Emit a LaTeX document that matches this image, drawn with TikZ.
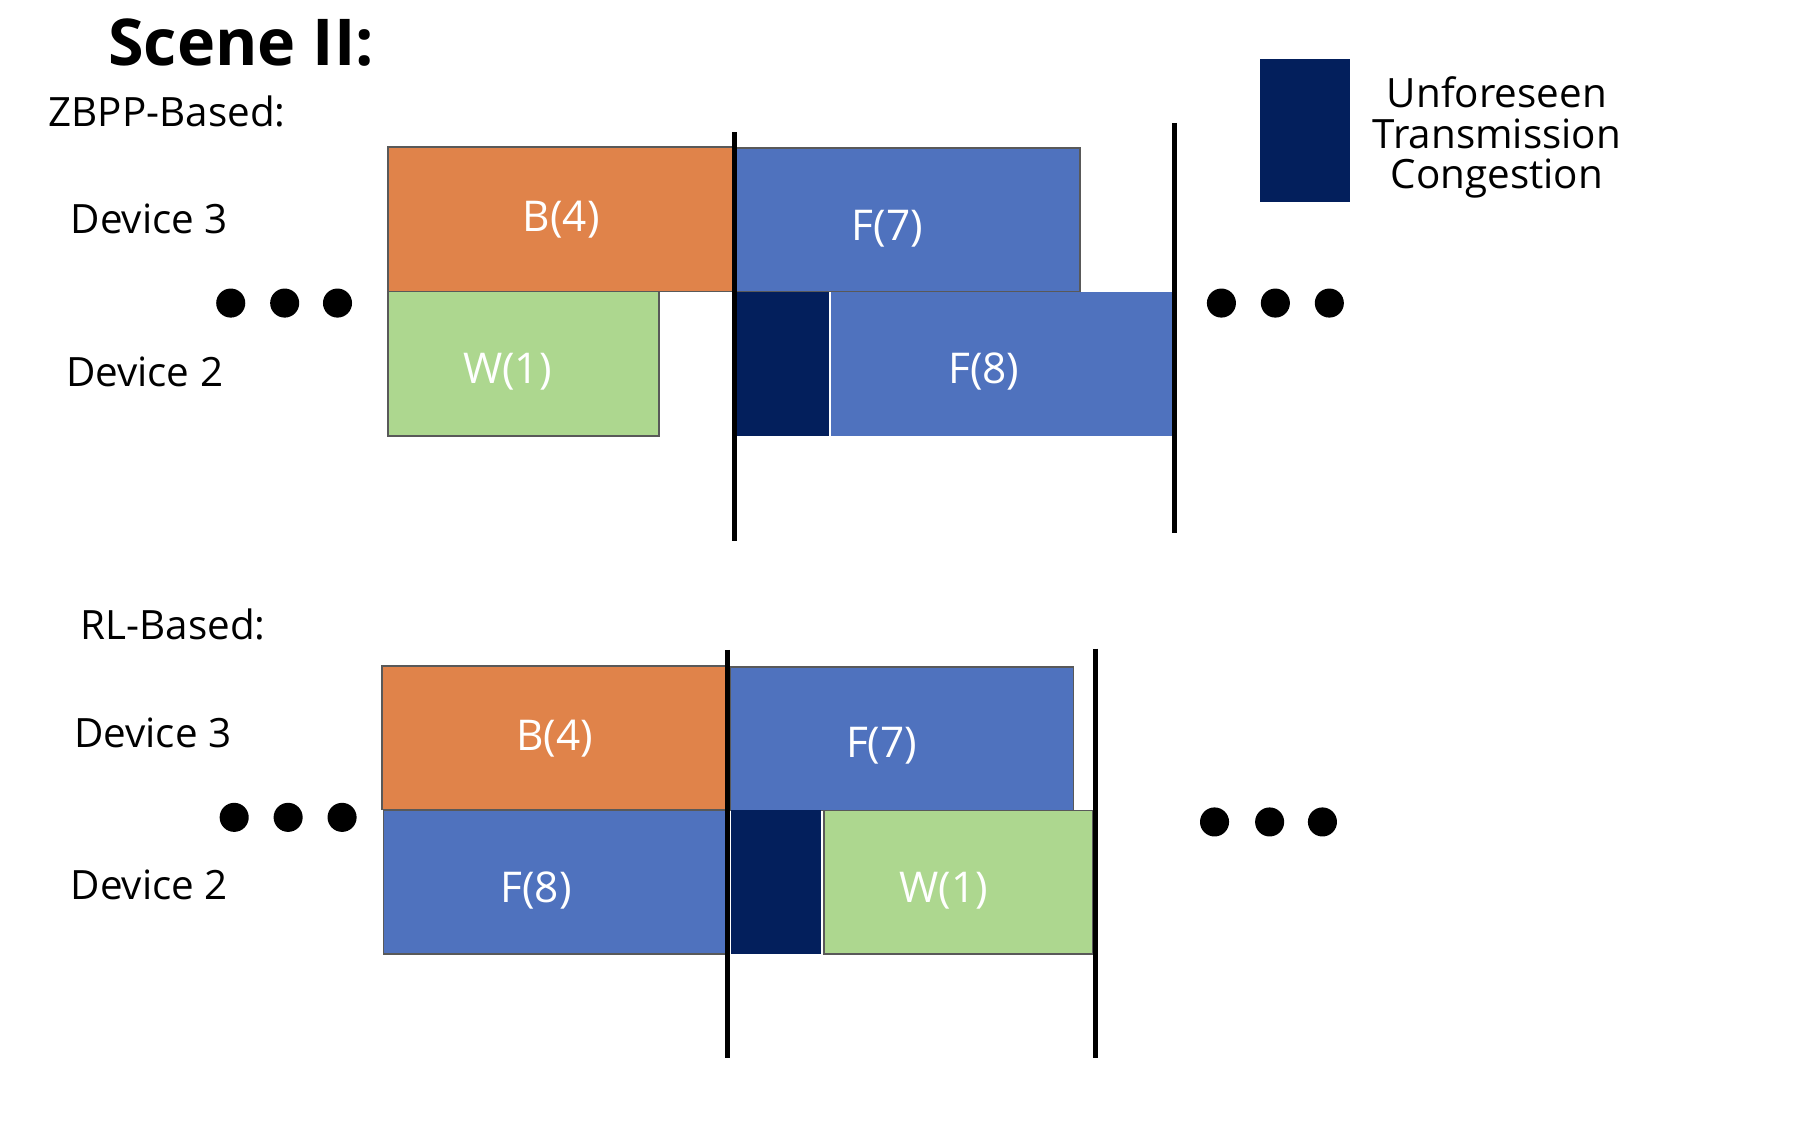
\documentclass[tikz,border=0pt]{standalone}
\usepackage{fontspec}
\setmainfont{Open Sans}
\begin{document}
\begin{tikzpicture}[x=0.01cm,y=-0.01cm,
 box/.style={draw=gray!70!black,line width=0.4pt},
 lab/.style={font=\fontsize{10}{12}\selectfont},
 blab/.style={text=white,font=\fontsize{10.5}{12}\selectfont},
 vline/.style={line width=1.2pt},
 dot/.style={circle,fill=black,minimum size=7.2pt,inner sep=0pt}]
\useasboundingbox (0,0) rectangle (1568,993);
\definecolor{ora}{HTML}{E0834A}\definecolor{blu}{HTML}{4F72BE}
\definecolor{grn}{HTML}{ADD78F}\definecolor{dk}{HTML}{031F5C}
\node[font=\bfseries\fontsize{16}{18}\selectfont,anchor=west] (title) at (82,37) {Scene \textrm{II}:};
\node[lab,anchor=west] (zb) at (30,97) {ZBPP-Based:};
\node[lab] (d3a) at (130,191) {Device 3};
\node[lab] (d2a) at (126,324) {Device 2};
\fill[ora,box] (338,128) rectangle (640,254); \node[blab] (b4a) at (489,191) {B(4)};
\fill[blu,box] (641,129) rectangle (941,254); \node[blab] (f7a) at (773,199) {F(7)};
\fill[grn,box] (338,254) rectangle (574,380); \node[blab] (w1a) at (442,324) {W(1)};
\fill[dk] (642,254) rectangle (722,380);
\fill[blu] (724,254) rectangle (1022,380); \node[blab] (f8a) at (857,324) {F(8)};
\draw[vline] (640,115) -- (640,471);
\draw[vline] (1023,107) -- (1023,464);
\foreach \x in {201,248,294,1064,1111,1158} \node[dot] at (\x,264) {};
\fill[dk] (1098,51) rectangle (1176,176);
\node[lab,align=center] (leg) at (1304,120) {Unforeseen\\[-2pt]Transmission\\[-2pt]Congestion};
\node[lab,anchor=west] (rl) at (58,544) {RL-Based:};
\node[lab] (d3b) at (133,638) {Device 3};
\node[lab] (d2b) at (130,771) {Device 2};
\fill[ora,box] (333,580) rectangle (634,705); \node[blab] (b4b) at (483,643) {B(4)};
\fill[blu,box] (636,581) rectangle (935,706); \node[blab] (f7b) at (768,650) {F(7)};
\fill[blu,box] (334,706) rectangle (632,831); \node[blab] (f8b) at (467,776) {F(8)};
\fill[dk] (637,706) rectangle (715,831);
\fill[grn,box] (718,706) rectangle (952,831); \node[blab] (w1b) at (822,776) {W(1)};
\draw[vline] (634,566) -- (634,922);
\draw[vline] (954,565) -- (954,922);
\foreach \x in {204,251,298} \node[dot] at (\x,712) {};
\foreach \x in {1058,1106,1152} \node[dot] at (\x,716) {};
\end{tikzpicture}
\end{document}
